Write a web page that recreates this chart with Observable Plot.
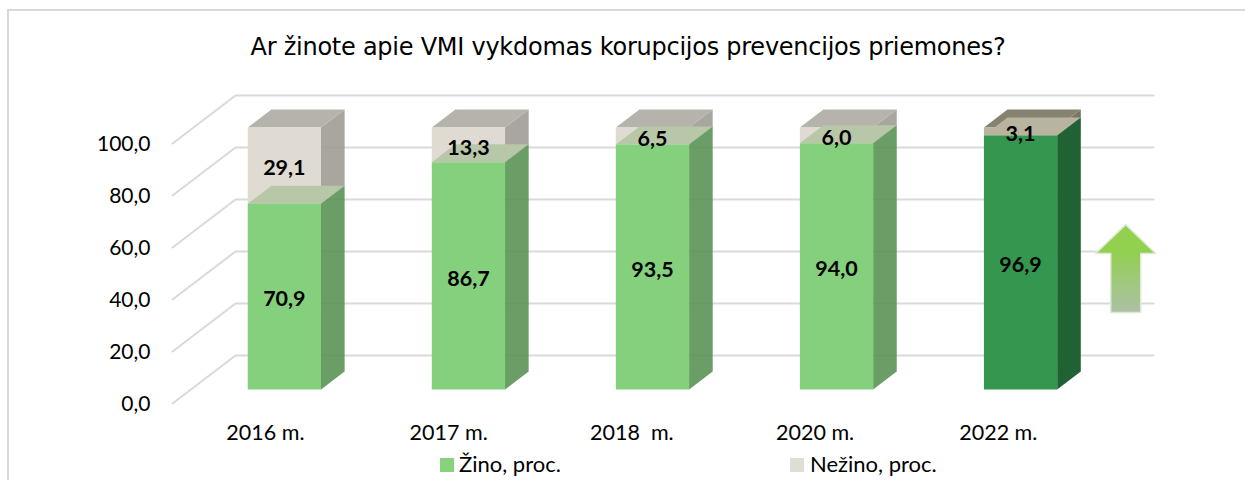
<!DOCTYPE html>
<html>
<head>
<meta charset="utf-8">
<script src="https://cdn.jsdelivr.net/npm/d3@7"></script>
<script src="https://cdn.jsdelivr.net/npm/@observablehq/plot@0.6"></script>
<style>
html,body{margin:0;padding:0;background:#fff;width:1245px;height:480px;overflow:hidden}
#frame{position:absolute;left:7px;top:9px;right:-5px;bottom:-5px;border:2px solid #d9d9d9}
#title{position:absolute;left:0;top:32px;width:1256px;text-align:center;font:24px "DejaVu Sans",sans-serif;color:#000;line-height:30px;letter-spacing:-.25px}
#chart{position:absolute;left:0;top:50px}
#legend div{position:absolute;top:451px;font:22px Lato,sans-serif;color:#000;line-height:26px;white-space:nowrap}
#legend i{position:absolute;top:458px;width:14px;height:14px}
</style>
</head>
<body>
<div id="frame"></div>
<div id="title">Ar žinote apie VMI vykdomas korupcijos prevencijos priemones?</div>
<div id="chart"></div>
<div id="legend">
  <i style="left:440px;background:#88d27e"></i><div style="left:459px">Žino, proc.</div>
  <i style="left:790px;background:#e0ddd5"></i><div style="left:810px">Nežino, proc.</div>
</div>
<script>
const categories = ["2016 m.", "2017 m.", "2018\u00a0\u00a0m.", "2020 m.", "2022 m."];
const zino = [70.9, 86.7, 93.5, 94.0, 96.9];
const nezino = [29.1, 13.3, 6.5, 6.0, 3.1];
const yTicks = [0, 20, 40, 60, 80, 100];
const palette = [
  {front:"#85d07c", side:"#578f51", top:"#b9c7a9", gFront:"#dfdbd3", gSide:"#9c9a92", gTop:"#b5b3ac", alpha:0.88},
  {front:"#85d07c", side:"#578f51", top:"#b9c7a9", gFront:"#dfdbd3", gSide:"#9c9a92", gTop:"#b5b3ac", alpha:0.88},
  {front:"#85d07c", side:"#578f51", top:"#b9c7a9", gFront:"#dfdbd3", gSide:"#9c9a92", gTop:"#b5b3ac", alpha:0.88},
  {front:"#85d07c", side:"#578f51", top:"#b9c7a9", gFront:"#dfdbd3", gSide:"#9c9a92", gTop:"#b5b3ac", alpha:0.88},
  {front:"#35964f", side:"#206233", top:"#b8b4a0", gFront:"#b8b4a0", gSide:"#77756a", gTop:"#85836f", alpha:1}
];
// Arrow annotation, in chart units
const arrowX = [4.671, 4.834, 4.753, 4.753, 4.590, 4.590, 4.508];
const arrowY = [68.8, 57.7, 57.7, 35.0, 35.0, 57.7, 57.7];

// oblique projection of the floor depth, in chart units
const depthX = 63 / 184, depthY = 48 / 2.6;
const xStart = -0.508, xEnd = 4.48;
const barW = 0.398, dFront = 14 / 48, dBack = 32 / 48, gain = 1.008;
const labelSpread = 0.9955, labelRow = -11.5;
const P = (x, v, d) => ({x: x + d * depthX, y: gain * v + d * depthY});

const faces = [];
function poly(id, fill, op, pts) { pts.forEach(p => faces.push({id, fill, op, x: p.x, y: p.y})); }
categories.forEach((c, i) => {
  const l = i - barW / 2, r = i + barW / 2, a = zino[i], t = zino[i] + nezino[i], k = palette[i];
  // grey segment
  poly(`${c}-gs`, k.gSide, k.alpha, [P(r, a, dFront), P(r, a, dBack), P(r, t, dBack), P(r, t, dFront)]);
  poly(`${c}-gt`, k.gTop, 1, [P(l, t, dFront), P(r, t, dFront), P(r, t, dBack), P(l, t, dBack)]);
  poly(`${c}-gf`, k.gFront, 1, [P(l, a, dFront), P(r, a, dFront), P(r, t, dFront), P(l, t, dFront)]);
  // green segment
  poly(`${c}-t`, k.top, 1, [P(l, a, dFront), P(r, a, dFront), P(r, a, dBack), P(l, a, dBack)]);
  poly(`${c}-s`, k.side, k.alpha, [P(r, 0, dFront), P(r, 0, dBack), P(r, a, dBack), P(r, a, dFront)]);
  poly(`${c}-f`, k.front, 1, [P(l, 0, dFront), P(r, 0, dFront), P(r, a, dFront), P(l, a, dFront)]);
});

const grid = yTicks.flatMap(v => [
  {v, x: xStart, y: v},
  {v, x: xStart + depthX, y: v + depthY},
  {v, x: xEnd + depthX, y: v + depthY}
]);

const labels = categories.flatMap((c, i) => {
  const at = (lo, n) => ({
    x: i + dFront * depthX,
    y: gain * (lo + n / 2) + dFront * depthY,
    text: n.toFixed(1).replace(".", ",")
  });
  return [at(0, zino[i]), at(zino[i], nezino[i])];
});

const arrow = arrowX.map((x, i) => ({x, y: arrowY[i]}));

const plot = Plot.plot({
  width: 1245, height: 400,
  marginLeft: 150, marginBottom: 34, marginTop: 0, marginRight: 0,
  x: {domain: [xStart, xEnd], range: [172, 1090], axis: null},
  y: {domain: [0, 100], range: [353, 93], axis: null},
  color: {type: "identity"},
  style: {background: "transparent", overflow: "visible"},
  marks: [
    () => {
      const defs = d3.create("svg:defs");
      const g = defs.append("linearGradient").attr("id", "arrowFill")
        .attr("x1", 0).attr("x2", 0).attr("y1", 0).attr("y2", 1);
      g.append("stop").attr("offset", "0.3").attr("stop-color", "#92d050");
      g.append("stop").attr("offset", "1").attr("stop-color", "#adc0a6");
      return defs.node();
    },
    Plot.line(grid, {x: "x", y: "y", z: "v", stroke: "#d9d9d9", strokeWidth: 2}),
    Plot.line(faces, {x: "x", y: "y", z: "id", fill: "fill", fillOpacity: "op", stroke: "none"}),
    Plot.line(arrow.concat(arrow[0]), {x: "x", y: "y", fill: "url(#arrowFill)", stroke: "#dcebd2", strokeWidth: 1.5}),
    Plot.text(labels, {x: "x", y: "y", text: "text", fontSize: 21.5, fontWeight: 700, fontFamily: "Lato,sans-serif", fill: "#000", dy: 3}),
    Plot.axisY(yTicks, {anchor: "left", tickSize: 0, tickPadding: 0, label: null, fontSize: 21, dy: 1, fontFamily: "Lato,sans-serif", fill: "#000",
      tickFormat: d => d.toFixed(1).replace(".", ",")}),
    Plot.text(categories, {x: (d, i) => i * labelSpread - 0.003, y: labelRow, text: d => d, fontSize: 21.5, fontFamily: "Lato,sans-serif", fill: "#000"})
  ]
});
document.getElementById("chart").append(plot);
</script>
</body>
</html>
